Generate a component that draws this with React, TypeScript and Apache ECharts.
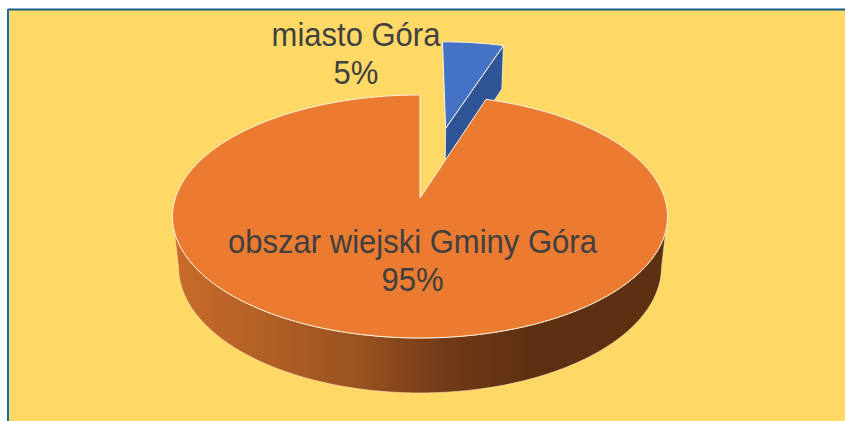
import React, { useEffect, useRef } from "react";
import * as echarts from "echarts";

const categories = ["miasto Góra", "obszar wiejski Gminy Góra"];
const values = [5, 95];
const topColors = ["#4472C4", "#EB7B30"];
const wallColors = ["#2F5597", "#5E3012"];
const explodeOffsets = [
  [0.115, -0.645],
  [0, 0],
];
const labelCentres = [
  [356, 54],
  [412.5, 261],
];

const CX = 420;
const CY = 198;
const A = 244.6;
const B = 118.7;
const K = 0.152;
const M = 0.024;
const D = 51.3;

function project(u: number, v: number, z: number): number[] {
  const w = 1 - K * v + M * z;
  return [CX + (A * u) / w, CY + (B * v + D * z) / w];
}

const total = values.reduce((s, x) => s + x, 0);

function renderItem(params: any, api: any) {
  const i = params.dataIndex;
  const before = values.slice(0, i).reduce((s, x) => s + x, 0);
  const a0 = (before / total) * 360;
  const a1 = a0 + (api.value(0) / total) * 360;
  const [ou, ov] = explodeOffsets[i];
  const rim = (deg: number, z: number) => {
    const r = (deg * Math.PI) / 180;
    return project(ou + Math.sin(r), ov - Math.cos(r), z);
  };
  const arc = (from: number, to: number, z: number) => {
    const pts: number[][] = [];
    const n = Math.max(2, Math.ceil(Math.abs(to - from)));
    for (let s = 0; s <= n; s++) pts.push(rim(from + ((to - from) * s) / n, z));
    return pts;
  };
  const apex = (z: number) => project(ou, ov, z);
  const edge = { stroke: "#FFF3E0", lineWidth: 1, lineJoin: "round" };
  const children: any[] = [];

  if (i === 0) {
    children.push({
      type: "polygon",
      shape: { points: [apex(0), rim(a1, 0), rim(a1, 1), apex(1)] },
      style: { fill: wallColors[i], ...edge, lineWidth: 0.8 },
    });
  } else {
    const wall = [...arc(98.7, 261.3, 0), ...arc(261.3, 98.7, 1)];
    children.push({
      type: "polygon",
      shape: { points: wall },
      style: {
        fill: new echarts.graphic.LinearGradient(0, 0, 1, 0, [
          { offset: 0, color: "#C96C2A" },
          { offset: 0.12, color: "#BA6428" },
          { offset: 0.38, color: "#99521F" },
          { offset: 0.55, color: "#723A18" },
          { offset: 0.72, color: "#5E3012" },
          { offset: 1, color: "#5E3012" },
        ]),
        stroke: "#FFE9B0",
        lineWidth: 0.6,
      },
    });
  }
  children.push({
    type: "polygon",
    shape: { points: [apex(0), ...arc(a0, a1, 0)] },
    style: { fill: topColors[i], ...edge },
  });
  children.push({
    type: "text",
    x: labelCentres[i][0],
    y: labelCentres[i][1],
    scaleX: 0.94,
    style: {
      text: `${categories[i]}\n${Math.round((api.value(0) / total) * 100)}%`,
      fill: "#404040",
      font: '33px "Liberation Sans", Arial, sans-serif',
      lineHeight: 38,
      align: "center",
      verticalAlign: "middle",
    },
  });
  return { type: "group", children };
}

export default function App() {
  const ref = useRef<HTMLDivElement>(null);
  useEffect(() => {
    document.body.style.margin = "0";
    const chart = echarts.init(ref.current!, null, { renderer: "svg" });
    chart.setOption({
      animation: false,
      backgroundColor: "#FFFFFF",
      graphic: {
        elements: [
          { type: "rect", z: -10, shape: { x: 8, y: 10, width: 840, height: 420 }, style: { fill: "#FFD966" } },
          { type: "line", z: -9, shape: { x1: 8, y1: 9.5, x2: 845, y2: 9.5 }, style: { stroke: "#156082", lineWidth: 2 } },
          { type: "line", z: -9, shape: { x1: 8, y1: 9, x2: 8, y2: 421 }, style: { stroke: "#0F6FA8", lineWidth: 2 } },
        ],
      },
      series: [
        {
          type: "custom",
          coordinateSystem: "none",
          silent: true,
          data: values.map((v, i) => ({ name: categories[i], value: [v] })),
          renderItem,
        },
      ],
    });
    return () => chart.dispose();
  }, []);
  return <div ref={ref} style={{ width: 845, height: 421 }} />;
}
